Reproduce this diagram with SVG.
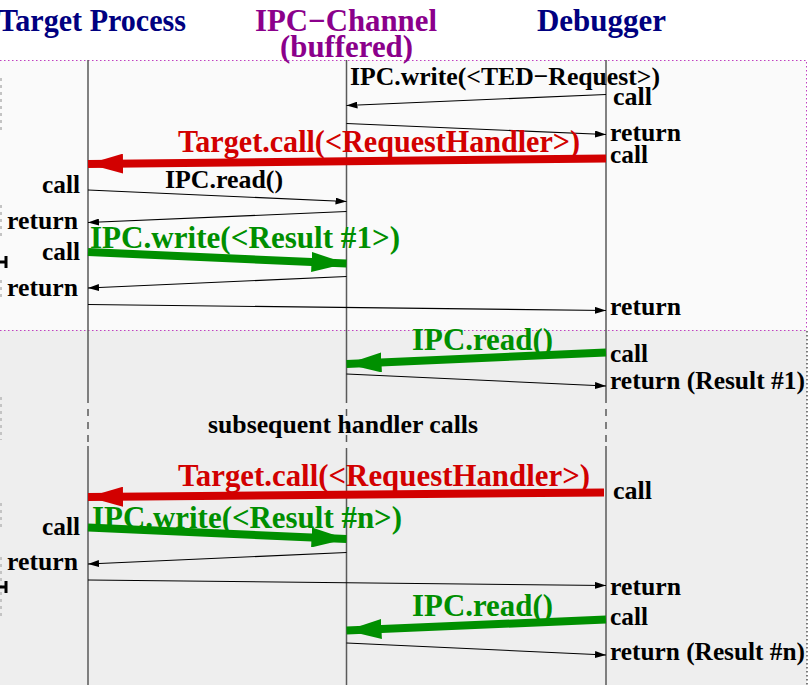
<svg xmlns="http://www.w3.org/2000/svg" width="811" height="685" viewBox="0 0 811 685">
  <style>
    .hdr { font-family: "Liberation Serif", "Times New Roman", serif; font-weight: bold; font-size: 31px; }
    .lbl { font-family: "Liberation Serif", "Times New Roman", serif; font-weight: bold; font-size: 26px; fill: #000; }
    .big { font-family: "Liberation Serif", "Times New Roman", serif; font-weight: bold; font-size: 31px; }
    .life { stroke: #5a5a5a; stroke-width: 1.5; fill: none; }
    .lifedash { stroke: #5a5a5a; stroke-width: 1.5; fill: none; stroke-dasharray: 7 6; }
    .msg { stroke: #000; stroke-width: 1.1; fill: none; marker-end: url(#thin); }
    .red { stroke: #d20000; stroke-width: 8; fill: none; marker-end: url(#headRed); }
    .green { stroke: #008f00; stroke-width: 8; fill: none; marker-end: url(#headGreen); }
    .border { fill: none; stroke-width: 1; stroke-dasharray: 1.5 2.5; }
  </style>
  <defs>
    <marker id="thin" markerUnits="userSpaceOnUse" markerWidth="11" markerHeight="7" refX="11" refY="3.5" orient="auto">
      <path d="M0,0 L11,3.5 L0,7 z" fill="#000"/>
    </marker>
    <marker id="headRed" markerUnits="userSpaceOnUse" markerWidth="35" markerHeight="20" refX="35" refY="10" orient="auto">
      <path d="M0,0 L35,10 L0,20 z" fill="#d20000"/>
    </marker>
    <marker id="headGreen" markerUnits="userSpaceOnUse" markerWidth="35" markerHeight="20" refX="35" refY="10" orient="auto">
      <path d="M0,0 L35,10 L0,20 z" fill="#008f00"/>
    </marker>
  </defs>

  <!-- backgrounds of the two phases -->
  <rect x="0" y="0" width="811" height="685" fill="#ffffff"/>
  <rect x="0" y="60" width="806" height="270" fill="#fafafa"/>
  <rect x="0" y="330" width="807" height="355" fill="#eeeeee"/>
  <path class="border" stroke="#c040c0" d="M0,60.5 H806.5 V330 M0,330.5 H806.5"/>
  <path class="border" stroke="#000" d="M807,331 V685"/>

  <!-- clipped side captions at the left margin -->
  <g id="margin">
    <path d="M1,78 V130 M1,205 V240 M1,280 V300 M1,397 V440 M1,503 V528 M1,557 V618" stroke="#c4c4c4" stroke-width="2" stroke-dasharray="3 4" fill="none"/>
    <path d="M0,262 H6 M6,256 V268" stroke="#000" stroke-width="3" fill="none"/>
    <path d="M0,587 H6 M6,581 V593" stroke="#000" stroke-width="3" fill="none"/>
  </g>

  <!-- participants -->
  <g id="target">
    <text class="hdr" x="-2" y="31" fill="#000080" textLength="188" lengthAdjust="spacingAndGlyphs">Target Process</text>
    <path class="life" d="M88,60 V396 M88,446 V685"/>
    <path class="lifedash" d="M88,396 V446"/>
  </g>
  <g id="channel">
    <text class="hdr" x="255" y="31" fill="#8b008b" textLength="182" lengthAdjust="spacingAndGlyphs">IPC−Channel</text>
    <text class="hdr" x="280" y="57" fill="#8b008b" textLength="133" lengthAdjust="spacingAndGlyphs">(buffered)</text>
    <path class="life" d="M346.5,60 V396 M346.5,448 V685"/>
    <path class="lifedash" d="M346.5,396 V448"/>
  </g>
  <g id="debugger">
    <text class="hdr" x="537" y="31" fill="#000080" textLength="129" lengthAdjust="spacingAndGlyphs">Debugger</text>
    <path class="life" d="M606,60 V396 M606,446 V685"/>
    <path class="lifedash" d="M606,396 V446"/>
  </g>

  <!-- messages -->
  <g id="connectors">
    <!-- first request -->
    <text class="lbl" x="350" y="85" textLength="310" lengthAdjust="spacingAndGlyphs">IPC.write(&lt;TED−Request&gt;)</text>
    <line class="msg" x1="606" y1="94.5" x2="346.5" y2="105.5"/>
    <text class="lbl" x="613" y="105" textLength="39" lengthAdjust="spacingAndGlyphs">call</text>
    <line class="msg" x1="346.5" y1="123.5" x2="606" y2="134.5"/>
    <text class="lbl" x="610" y="141" textLength="71" lengthAdjust="spacingAndGlyphs">return</text>
    <text class="lbl" x="610" y="163" textLength="38" lengthAdjust="spacingAndGlyphs">call</text>

    <text class="big" x="178" y="152" fill="#d20000" textLength="402" lengthAdjust="spacingAndGlyphs">Target.call(&lt;RequestHandler&gt;)</text>
    <line class="red" x1="606" y1="158.5" x2="88" y2="164"/>

    <text class="lbl" x="80" y="193" text-anchor="end" textLength="38" lengthAdjust="spacingAndGlyphs">call</text>
    <text class="lbl" x="165" y="188" textLength="118" lengthAdjust="spacingAndGlyphs">IPC.read()</text>
    <line class="msg" x1="88" y1="190" x2="346.5" y2="201.5"/>
    <line class="msg" x1="346.5" y1="211.5" x2="88" y2="222.5"/>
    <text class="lbl" x="78" y="229" text-anchor="end" textLength="71" lengthAdjust="spacingAndGlyphs">return</text>

    <text class="big" x="90" y="248" fill="#008f00" textLength="310" lengthAdjust="spacingAndGlyphs">IPC.write(&lt;Result #1&gt;)</text>
    <text class="lbl" x="80" y="260" text-anchor="end" textLength="38" lengthAdjust="spacingAndGlyphs">call</text>
    <line class="green" x1="88" y1="252" x2="346.5" y2="263.5"/>
    <line class="msg" x1="346.5" y1="276.5" x2="88" y2="288"/>
    <text class="lbl" x="78" y="296" text-anchor="end" textLength="71" lengthAdjust="spacingAndGlyphs">return</text>
    <line class="msg" x1="88" y1="304.5" x2="606" y2="310.5"/>
    <text class="lbl" x="610" y="315" textLength="71" lengthAdjust="spacingAndGlyphs">return</text>

    <!-- reading the first result -->
    <text class="big" x="412" y="350" fill="#008f00" textLength="141" lengthAdjust="spacingAndGlyphs">IPC.read()</text>
    <line class="green" x1="606" y1="352.5" x2="346.5" y2="364"/>
    <text class="lbl" x="610" y="362" textLength="38" lengthAdjust="spacingAndGlyphs">call</text>
    <line class="msg" x1="346.5" y1="374" x2="606" y2="386"/>
    <text class="lbl" x="610" y="389" textLength="195" lengthAdjust="spacingAndGlyphs">return (Result #1)</text>

    <text class="lbl" x="208" y="433" textLength="270" lengthAdjust="spacingAndGlyphs">subsequent handler calls</text>

    <!-- n-th request -->
    <text class="big" x="178" y="486" fill="#d20000" textLength="412" lengthAdjust="spacingAndGlyphs">Target.call(&lt;RequestHandler&gt;)</text>
    <line class="red" x1="604" y1="492.5" x2="88" y2="497"/>
    <text class="lbl" x="613" y="499" textLength="39" lengthAdjust="spacingAndGlyphs">call</text>

    <text class="big" x="92" y="528" fill="#008f00" textLength="310" lengthAdjust="spacingAndGlyphs">IPC.write(&lt;Result #n&gt;)</text>
    <text class="lbl" x="80" y="535" text-anchor="end" textLength="38" lengthAdjust="spacingAndGlyphs">call</text>
    <line class="green" x1="88" y1="527.5" x2="346.5" y2="539"/>
    <line class="msg" x1="346.5" y1="552.5" x2="88" y2="564"/>
    <text class="lbl" x="78" y="570" text-anchor="end" textLength="71" lengthAdjust="spacingAndGlyphs">return</text>
    <line class="msg" x1="88" y1="580" x2="606" y2="585.5"/>
    <text class="lbl" x="610" y="595" textLength="71" lengthAdjust="spacingAndGlyphs">return</text>

    <!-- reading the n-th result -->
    <text class="big" x="412" y="616" fill="#008f00" textLength="141" lengthAdjust="spacingAndGlyphs">IPC.read()</text>
    <line class="green" x1="606" y1="619.5" x2="346.5" y2="630.5"/>
    <text class="lbl" x="610" y="625" textLength="38" lengthAdjust="spacingAndGlyphs">call</text>
    <line class="msg" x1="346.5" y1="643" x2="606" y2="655"/>
    <text class="lbl" x="610" y="660" textLength="195" lengthAdjust="spacingAndGlyphs">return (Result #n)</text>
  </g>
</svg>
